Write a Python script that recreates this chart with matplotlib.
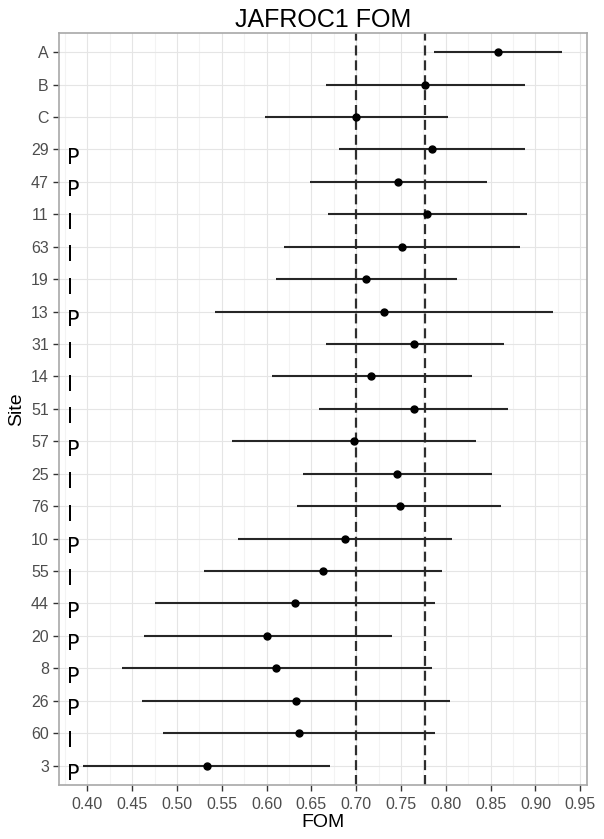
import numpy as np
import matplotlib
matplotlib.use("Agg")
import matplotlib.pyplot as plt
from matplotlib.ticker import MultipleLocator

plt.rcParams['font.family'] = ['Liberation Sans', 'DejaVu Sans']

# sites, top to bottom
sites = ['A', 'B', 'C', '29', '47', '11', '63', '19', '13', '31', '14', '51',
         '57', '25', '76', '10', '55', '44', '20', '8', '26', '60', '3']
kind = ['', '', '', 'P', 'P', 'I', 'I', 'I', 'P', 'I', 'I', 'I',
        'P', 'I', 'I', 'P', 'I', 'P', 'P', 'P', 'P', 'I', 'P']
fom = [0.858, 0.777, 0.700, 0.785, 0.747, 0.779, 0.751, 0.711, 0.731, 0.765, 0.717, 0.764,
       0.697, 0.746, 0.749, 0.687, 0.663, 0.632, 0.601, 0.611, 0.633, 0.636, 0.533]
lower = [0.787, 0.666, 0.598, 0.681, 0.648, 0.669, 0.619, 0.611, 0.542, 0.666, 0.606, 0.658,
         0.561, 0.641, 0.634, 0.568, 0.530, 0.476, 0.463, 0.439, 0.461, 0.484, 0.395]
upper = [0.930, 0.888, 0.802, 0.888, 0.846, 0.890, 0.883, 0.812, 0.919, 0.865, 0.829, 0.869,
         0.834, 0.852, 0.862, 0.807, 0.796, 0.788, 0.740, 0.784, 0.805, 0.788, 0.671]
ref_lines = [0.700, 0.777]

fig = plt.figure(figsize=(6.04, 8.39), dpi=100)
ax = fig.add_axes([59/604, 1 - 785/839, (587.3 - 59)/604, (785 - 32.7)/839])

y = np.arange(len(sites))
n = len(sites)

# grid
ax.xaxis.set_major_locator(MultipleLocator(0.05))
ax.xaxis.set_minor_locator(MultipleLocator(0.025))
ax.set_axisbelow(True)
ax.grid(which='major', axis='both', color='#e5e5e5', lw=0.8)
ax.grid(which='minor', axis='x', color='#f3f3f3', lw=0.8)

for xv in ref_lines:
    ax.axvline(xv, color='#2e2e2e', lw=1.6, ls=(0, (4.5, 2.2)), zorder=2)

ax.hlines(y, lower, upper, color='#262626', lw=1.5, zorder=3)
ax.plot(fom, y, 'o', color='black', ms=5, zorder=4)

for yi, k in zip(y, kind):
    if k:
        ax.text(0.3775, yi - 0.05, k, fontsize=15, va='top', ha='left',
                family=['DejaVu Sans'], color='black')

ax.set_yticks(y)
ax.set_yticklabels(sites)
ax.set_xticklabels(['%.2f' % v for v in ax.get_xticks()])
ax.set_xlim(0.3684, 0.9578)
ax.set_ylim(n - 1 + 0.6, -0.6)
ax.tick_params(axis='both', which='major', length=4.3, width=1.0, color='#333333',
               labelsize=11.5, labelcolor='#4d4d4d', pad=3)
ax.tick_params(axis='x', which='major', pad=4)
ax.tick_params(axis='x', which='minor', length=0)

for s in ax.spines.values():
    s.set_color('#a8a8a8')
    s.set_linewidth(1.2)

ax.set_xlabel('FOM', fontsize=14, labelpad=2)
ax.set_ylabel('Site', fontsize=14, labelpad=4)
ax.set_title('JAFROC1 FOM', fontsize=18, pad=4)

fig.savefig('out.png', dpi=100)
